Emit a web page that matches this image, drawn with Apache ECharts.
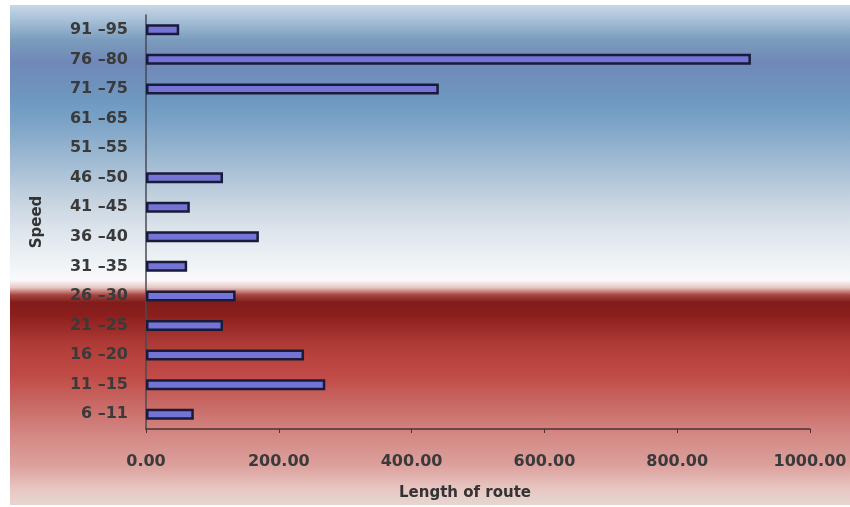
<!DOCTYPE html>
<html>
<head>
<meta charset="utf-8">
<script src="https://cdn.jsdelivr.net/npm/echarts@6/dist/echarts.min.js"></script>
<style>html,body{margin:0;padding:0;background:#fff}#c{width:850px;height:507px}</style>
</head>
<body>
<div id="c"></div>
<script>
const categories = ["6 \u201311","11 \u201315","16 \u201320","21 \u201325","26 \u201330","31 \u201335","36 \u201340","41 \u201345","46 \u201350","51 \u201355","61 \u201365","71 \u201375","76 \u201380","91 \u201395"];
const lengths = [72, 270, 238, 116, 135, 62, 170, 66, 116, 0, 0, 441, 911, 50];
const xTicks = {min: 0, max: 1000, interval: 200};

const FONT = 'DejaVu Sans';
const chart = echarts.init(document.getElementById('c'), null, {renderer: 'canvas'});
const bg = new echarts.graphic.LinearGradient(0, 0, 0, 1, [
  {offset: 0.000, color: '#c8d8e6'},
  {offset: 0.030, color: '#a8c0d8'},
  {offset: 0.070, color: '#7a9cbc'},
  {offset: 0.115, color: '#7088b8'},
  {offset: 0.190, color: '#6e98c0'},
  {offset: 0.230, color: '#7aa2c6'},
  {offset: 0.330, color: '#a8c0d6'},
  {offset: 0.390, color: '#c5d3df'},
  {offset: 0.450, color: '#dde4ec'},
  {offset: 0.520, color: '#f0f4f7'},
  {offset: 0.550, color: '#fafafa'},
  {offset: 0.565, color: '#e8c8c4'},
  {offset: 0.580, color: '#a84440'},
  {offset: 0.595, color: '#801c1a'},
  {offset: 0.620, color: '#8b1e1c'},
  {offset: 0.680, color: '#b03c38'},
  {offset: 0.740, color: '#c04a46'},
  {offset: 0.800, color: '#c86a66'},
  {offset: 0.860, color: '#d48884'},
  {offset: 0.920, color: '#dca09c'},
  {offset: 0.970, color: '#e8c8c4'},
  {offset: 1.000, color: '#e6d6d0'}
]);
chart.setOption({
  animation: false,
  backgroundColor: '#ffffff',
  graphic: [{
    type: 'rect', z: -10, silent: true,
    shape: {x: 10, y: 5, width: 840, height: 500},
    style: {fill: bg}
  }],
  grid: {left: 146, right: 40, top: 15, bottom: 78, containLabel: false},
  xAxis: {
    type: 'value', min: xTicks.min, max: xTicks.max, interval: xTicks.interval,
    name: 'Length of route', nameLocation: 'middle', nameGap: 57,
    nameTextStyle: {fontFamily: FONT, fontWeight: 'bold', fontSize: 15, color: '#333', padding: [0, 26, 0, 0]},
    axisLine: {show: true, lineStyle: {color: '#4a3030', width: 1.5}},
    axisTick: {show: true, length: 4, lineStyle: {color: '#4a3030'}},
    splitLine: {show: false},
    axisLabel: {margin: 25, fontFamily: FONT, fontWeight: 'bold', fontSize: 16, color: '#3a3a3a',
      formatter: v => v.toFixed(2)}
  },
  yAxis: {
    type: 'category', data: categories,
    name: 'Speed', nameLocation: 'middle', nameGap: 101,
    nameTextStyle: {fontFamily: FONT, fontWeight: 'bold', fontSize: 15, color: '#333'},
    axisLine: {show: true, lineStyle: {color: '#4a4a55', width: 1.5}},
    axisTick: {show: false},
    axisLabel: {margin: 18, fontFamily: FONT, fontWeight: 'bold', fontSize: 16, color: '#3a3a3a'}
  },
  series: [{
    type: 'bar', data: lengths.map(v => v === 0 ? '-' : v), barWidth: 11,
    itemStyle: {color: '#7474d6', borderColor: '#1a1a3a', borderWidth: 2.5}
  }]
});
</script>
</body>
</html>
